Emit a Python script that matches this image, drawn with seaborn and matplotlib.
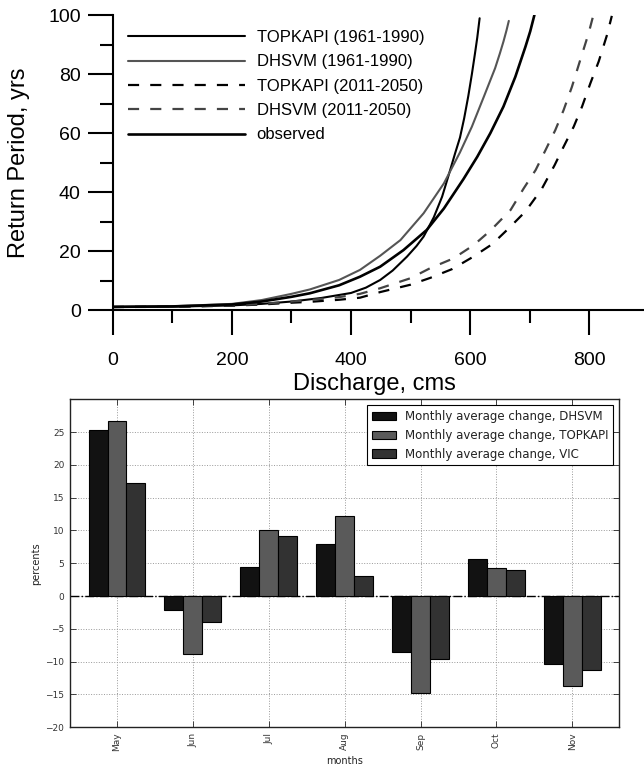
import matplotlib
matplotlib.use("Agg")
import matplotlib.pyplot as plt
import numpy as np
import pandas as pd
import seaborn as sns

# ---------------- top panel: return period curves ----------------
topk_hist_q = [0, 100, 200, 250, 300, 350, 400, 425, 449, 470, 494, 510, 522, 539, 553, 564, 575, 583, 590, 597, 603, 608, 612, 616]
topk_hist_t = [1.15, 1.25, 1.7, 2.2, 3.0, 4.2, 5.9, 7.7, 10.3, 13.5, 18.2, 21.8, 25.0, 31.5, 38.5, 45.8, 53.3, 58.5, 65.0, 72.6, 80.0, 86.7, 92.3, 98.9]

dhsvm_hist_q = [0, 100, 200, 250, 300, 331, 380, 415, 449, 483, 522, 556, 583, 603, 623, 642, 650, 656, 661, 665]
dhsvm_hist_t = [1.2, 1.4, 2.2, 3.5, 5.6, 7.1, 10.3, 13.7, 18.5, 23.8, 32.9, 43.0, 53.5, 62.2, 72.3, 82.0, 87.0, 91.0, 94.7, 98.0]

topk_fut_q = [0, 100, 200, 250, 300, 331, 380, 415, 449, 500, 533, 570, 603, 637, 665, 693, 720, 742, 757, 774, 788, 802, 816, 830, 838]
topk_fut_t = [1.15, 1.2, 1.6, 2.0, 2.6, 2.9, 3.6, 4.3, 6.2, 8.7, 11.0, 14.0, 17.9, 22.4, 27.8, 33.5, 41.0, 49.2, 55.4, 62.2, 69.0, 76.9, 84.3, 93.3, 99.7]

dhsvm_fut_q = [0, 100, 200, 250, 300, 331, 380, 415, 449, 500, 533, 572, 606, 634, 668, 690, 710, 726, 743, 757, 771, 785, 799, 806]
dhsvm_fut_t = [1.15, 1.25, 1.7, 2.2, 3.0, 3.5, 4.5, 5.6, 7.5, 10.9, 14.3, 17.6, 22.1, 27.0, 34.0, 41.3, 47.5, 54.0, 61.0, 67.8, 75.7, 84.8, 93.8, 99.2]

obs_q = [0, 100, 200, 250, 300, 331, 380, 415, 449, 488, 527, 556, 589, 612, 634, 656, 676, 693, 701, 708]
obs_t = [1.2, 1.35, 2.0, 3.0, 4.6, 5.8, 8.5, 11.4, 14.8, 20.4, 27.2, 34.5, 44.5, 52.0, 60.0, 69.0, 79.1, 89.3, 94.5, 100.0]

x_major = [0, 200, 400, 600, 800]
x_minor = [100, 300, 500, 700]
y_major = [0, 20, 40, 60, 80, 100]
y_minor = [10, 30, 50, 70, 90]

# ---------------- bottom panel: monthly change ----------------
months = ["May", "Jun", "Jul", "Aug", "Sep", "Oct", "Nov"]
dhsvm_change = [25.3, -2.1, 4.5, 7.9, -8.5, 5.7, -10.3]
topkapi_change = [26.7, -8.9, 10.0, 12.2, -14.8, 4.3, -13.7]
vic_change = [17.3, -3.9, 9.2, 3.1, -9.6, 4.0, -11.2]
bar_labels = ["Monthly average change, DHSVM",
              "Monthly average change, TOPKAPI",
              "Monthly average change, VIC"]
bar_yticks = [-20, -15, -10, -5, 0, 5, 10, 15, 20, 25]

sns.set_style("white")
plt.rcParams["font.family"] = ["Liberation Sans", "DejaVu Sans"]
plt.rcParams["axes.unicode_minus"] = True

W, H = 644, 766
fig = plt.figure(figsize=(W / 100, H / 100), dpi=100)

# ---------- top axes ----------
left_px, bot_px, top_px = 112.8, 310.4, 15.0
ax1 = fig.add_axes([left_px / W, 1 - bot_px / H, (W - left_px) / W, (bot_px - top_px) / H])
ax1.set_facecolor("none")

curves = [
    ("TOPKAPI (1961-1990)", topk_hist_q, topk_hist_t, "#000000", "-", 1.5),
    ("DHSVM (1961-1990)", dhsvm_hist_q, dhsvm_hist_t, "#555555", "-", 1.5),
    ("TOPKAPI (2011-2050)", topk_fut_q, topk_fut_t, "#000000", (0, (5, 5)), 1.6),
    ("DHSVM (2011-2050)", dhsvm_fut_q, dhsvm_fut_t, "#444444", (0, (5, 5)), 1.6),
    ("observed", obs_q, obs_t, "#000000", "-", 1.9),
]
for lab, q, t, c, ls, lw in curves:
    sns.lineplot(x=q, y=t, ax=ax1, color=c, linestyle=ls, linewidth=lw,
                 label=lab, sort=False, estimator=None)

ax1.set_xlim(0, (W - left_px) / 0.5955)
ax1.set_ylim(0, 100)
for s in ["top", "right"]:
    ax1.spines[s].set_visible(False)
for s in ["left", "bottom"]:
    ax1.spines[s].set_linewidth(1.5)
    ax1.spines[s].set_color("black")
ax1.set_xticks(x_major)
ax1.set_xticks(x_minor, minor=True)
ax1.set_yticks(y_major)
ax1.set_yticks(y_minor, minor=True)
ax1.tick_params(which="both", bottom=True, left=True, top=False, right=False)
ax1.tick_params(which="major", direction="out", length=18, width=1.5, color="black",
                labelsize=14, labelcolor="black")
ax1.tick_params(which="minor", direction="out", length=9.5, width=1.5, color="black")
ax1.tick_params(axis="x", which="major", pad=12)
ax1.tick_params(axis="y", which="major", pad=5)
ax1.set_xlabel("Discharge, cms", fontsize=17, color="black")
ax1.set_ylabel("Return Period, yrs", fontsize=17, labelpad=13, color="black")
ax1.xaxis.set_label_coords((374 - left_px) / (W - left_px), -0.211)

leg1 = ax1.legend(loc="upper left", bbox_to_anchor=(128 / W, 1 - 30 / H),
                  bbox_transform=fig.transFigure, frameon=False, fontsize=12,
                  handlelength=7.0, handletextpad=0.72, labelspacing=0.56,
                  borderpad=0, borderaxespad=0)
for t in leg1.get_texts():
    t.set_color("black")

# ---------- bottom axes ----------
bl, br, bt, bb = 69.8, 619.3, 399.3, 727.3
ax2 = fig.add_axes([bl / W, 1 - bb / H, (br - bl) / W, (bb - bt) / H])

df = pd.DataFrame({
    "month": months * 3,
    "value": dhsvm_change + topkapi_change + vic_change,
    "model": [bar_labels[0]] * 7 + [bar_labels[1]] * 7 + [bar_labels[2]] * 7,
})
sns.barplot(data=df, x="month", y="value", hue="model", order=months,
            hue_order=bar_labels, palette=["#121212", "#5a5a5a", "#323232"],
            width=0.75, saturation=1, edgecolor="black", linewidth=0.8,
            errorbar=None, ax=ax2, zorder=3)

ax2.set_xlim(-0.622, 6.618)
ax2.set_ylim(-20, 30)
ax2.set_yticks(bar_yticks)
ax2.grid(True, linestyle=":", color="#999999", linewidth=0.7)
ax2.set_axisbelow(True)
ax2.axhline(0, color="black", linestyle="-.", linewidth=1.0, zorder=2)
for s in ax2.spines.values():
    s.set_visible(True)
    s.set_linewidth(1.0)
    s.set_color("#222222")
ax2.tick_params(direction="in", length=4, width=0.6, top=True, right=True,
                bottom=True, left=True, labelsize=6.5, labelcolor="#333333", pad=4)
ax2.tick_params(axis="x", labelrotation=90)
for lab in ax2.get_xticklabels() + ax2.get_yticklabels():
    lab.set_fontfamily("DejaVu Sans")
ax2.set_xlabel("months", fontsize=7, family="DejaVu Sans", labelpad=3, color="#222222")
ax2.set_ylabel("percents", fontsize=7, family="DejaVu Sans", labelpad=3, color="#222222")

leg2 = ax2.legend(loc="upper right", fontsize=8.5, frameon=True, fancybox=False,
                  edgecolor="black", framealpha=1, borderpad=0.4, labelspacing=0.5,
                  handlelength=2.0, handletextpad=0.8, borderaxespad=0.5,
                  prop={"family": "DejaVu Sans", "size": 8.5})
leg2.get_frame().set_linewidth(0.8)
for t in leg2.get_texts():
    t.set_color("#222222")

fig.savefig("out.png", dpi=100)
